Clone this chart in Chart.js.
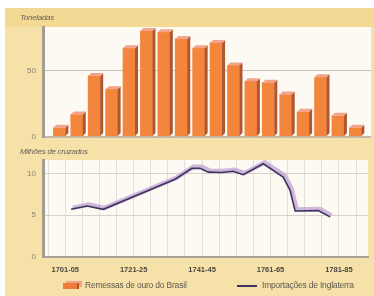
<!DOCTYPE html>
<html>
<head>
<meta charset="utf-8">
<script src="https://cdn.jsdelivr.net/npm/chart.js@4"></script>
<style>
  body { margin: 0; background: #fff; width: 374px; height: 296px; overflow: hidden; position: relative; font-family: "Liberation Sans", Arial, sans-serif; }
  #bg { position: absolute; left: 5px; top: 8px; width: 369px; height: 288px; background: #f6e1a8; }
  #band { position: absolute; left: 5px; top: 8px; width: 369px; height: 19px; background: #f4d994; }
  .cv { position: absolute; left: 0; }
  .unit { position: absolute; left: 20px; font-size: 8px; font-style: italic; color: #6a6458; letter-spacing: -0.3px; }
  .leg { position: absolute; top: 280px; font-size: 8.5px; color: #5e5850; white-space: nowrap; letter-spacing: -0.2px; }
  #boxIcon { position: absolute; left: 63px; top: 283px; width: 14px; height: 6px; background: #ef7d3a; box-shadow: 3px -2px 0 #f2a386; border-right: 2px solid #b4562e; }
  #lineIcon { position: absolute; left: 237px; top: 285px; width: 20px; height: 2px; background: #3d3560; }
</style>
</head>
<body>
<div id="bg"></div>
<div id="band"></div>
<canvas id="topChart" class="cv" width="374" height="150" style="top:0"></canvas>
<canvas id="bottomChart" class="cv" width="374" height="150" style="top:146px"></canvas>
<div class="unit" style="top:13px">Toneladas</div>
<div class="unit" style="top:147px">Milhões de cruzados</div>
<div id="boxIcon"></div>
<div class="leg" style="left:85px">Remessas de ouro do Brasil</div>
<div id="lineIcon"></div>
<div class="leg" style="left:262px">Importações de Inglaterra</div>

<script>
// remessas de ouro (toneladas), por quinquenio (ano do meio)
var barYears = [1703, 1708, 1713, 1718, 1723, 1728, 1733, 1738, 1743, 1748, 1753, 1758, 1763, 1768, 1773, 1778, 1783, 1788]
var remessas = [7, 17, 46, 36, 67, 80, 79, 74, 67, 71, 54, 42, 41, 32, 19, 45, 16, 7]

// importacoes de Inglaterra (milhoes de cruzados)
var lineYears = [1702.7, 1707.4, 1712.1, 1733.1, 1738.0, 1740.4, 1742.8, 1746.7, 1750.1, 1753.0, 1758.9, 1764.7, 1766.7, 1768.2, 1775.0, 1778.4]
var importacoes = [5.7, 6.1, 5.7, 9.3, 10.6, 10.6, 10.15, 10.1, 10.25, 9.85, 11.15, 9.55, 8.0, 5.5, 5.55, 4.8]

var gridYears = [1696, 1701, 1706, 1711, 1716, 1721, 1726, 1731, 1736, 1741, 1746, 1751, 1756, 1761, 1766, 1771, 1776, 1781, 1786]
var tickYears = [1701, 1721, 1741, 1761, 1781]
var tickLabels = ["1701-05", "1721-25", "1741-45", "1761-65", "1781-85"]
var topTicks = [0, 50]
var bottomTicks = [0, 5, 10]

Chart.defaults.font.family = '"Liberation Sans", Arial, sans-serif'
Chart.defaults.animation = false

var plotBg = {
  id: 'plotBg',
  beforeDraw: function(chart) {
    var a = chart.chartArea
    chart.ctx.save()
    chart.ctx.fillStyle = '#fcfaf3'
    chart.ctx.fillRect(a.left, a.top, a.right - a.left, a.bottom - a.top)
    chart.ctx.restore()
  }
}

// sides and tops of the bars, from the bar elements
var bar3d = {
  id: 'bar3d',
  afterDatasetsDraw: function(chart) {
    var ctx = chart.ctx
    var d = 3
    chart.getDatasetMeta(0).data.forEach(function(b) {
      var l = b.x - b.width / 2, r = b.x + b.width / 2
      ctx.save()
      ctx.fillStyle = '#b0562e'
      ctx.beginPath()
      ctx.moveTo(r, b.y); ctx.lineTo(r + d, b.y - d); ctx.lineTo(r + d, b.base - d); ctx.lineTo(r, b.base)
      ctx.closePath(); ctx.fill()
      ctx.fillStyle = '#f1a48a'
      ctx.beginPath()
      ctx.moveTo(l, b.y); ctx.lineTo(l + d, b.y - d); ctx.lineTo(r + d, b.y - d); ctx.lineTo(r, b.y)
      ctx.closePath(); ctx.fill()
      ctx.restore()
    })
  }
}

var shadowShift = {
  id: 'shadowShift',
  beforeDatasetDraw: function(chart, args) {
    if (args.index === 1) { chart.ctx.save(); chart.ctx.translate(1.5, -1.5) }
  },
  afterDatasetDraw: function(chart, args) {
    if (args.index === 1) chart.ctx.restore()
  }
}

function tickFont() { return { size: 8 } }

new Chart(document.getElementById('topChart'), {
  type: 'bar',
  data: {
    datasets: [{
      data: barYears.map(function(y, i) { return { x: y, y: remessas[i] } }),
      backgroundColor: '#f3853c',
      borderWidth: 0,
      barThickness: 12
    }]
  },
  options: {
    responsive: false,
    layout: { padding: { left: 0, right: 3, top: 27, bottom: 13 } },
    plugins: { legend: { display: false }, tooltip: { enabled: false } },
    scales: {
      x: { type: 'linear', min: 1698.3, max: 1792.5, offset: false, display: false },
      y: {
        min: 0, max: 83,
        afterFit: function(s) { s.width = 43 },
        afterBuildTicks: function(s) { s.ticks = topTicks.map(function(v) { return { value: v } }) },
        border: { display: true, color: '#a39d92', width: 3 },
        grid: {
          drawTicks: false,
          color: function(c) { return c.tick.value === 0 ? '#c2bcae' : '#c9c3b6' },
          lineWidth: function(c) { return c.tick.value === 0 ? 2 : 1 }
        },
        ticks: { padding: 7, color: '#8a8478', font: tickFont() }
      }
    }
  },
  plugins: [plotBg, bar3d]
})

new Chart(document.getElementById('bottomChart'), {
  type: 'line',
  data: {
    datasets: [{
      data: lineYears.map(function(y, i) { return { x: y, y: importacoes[i] } }),
      borderColor: '#3d3560',
      borderWidth: 1.6,
      pointRadius: 0,
      tension: 0
    }, {
      data: lineYears.map(function(y, i) { return { x: y, y: importacoes[i] } }),
      borderColor: 'rgba(196,160,214,0.75)',
      borderWidth: 4.5,
      pointRadius: 0,
      tension: 0
    }]
  },
  options: {
    responsive: false,
    layout: { padding: { left: 0, right: 6, top: 14, bottom: 0 } },
    plugins: { legend: { display: false }, tooltip: { enabled: false } },
    scales: {
      x: {
        type: 'linear', min: 1694.5, max: 1789.5,
        afterFit: function(s) { s.height = 39 },
        afterBuildTicks: function(s) { s.ticks = gridYears.map(function(v) { return { value: v } }) },
        border: { display: true, color: '#aaa498', width: 2 },
        grid: { drawTicks: false, color: '#e2e0da' },
        ticks: {
          padding: 8, autoSkip: false, maxRotation: 0, color: '#4a4540',
          font: { size: 7.5, weight: 'bold' },
          callback: function(v) {
            var i = tickYears.indexOf(v)
            return i >= 0 ? tickLabels[i] : ''
          }
        }
      },
      y: {
        min: 0, max: 11.6,
        afterFit: function(s) { s.width = 43 },
        afterBuildTicks: function(s) { s.ticks = bottomTicks.map(function(v) { return { value: v } }) },
        border: { display: true, color: '#a39d92', width: 3 },
        grid: { drawTicks: false, color: '#d6d2ca' },
        ticks: { padding: 7, color: '#8a8478', font: tickFont() }
      }
    }
  },
  plugins: [plotBg, shadowShift]
})
</script>
</body>
</html>
